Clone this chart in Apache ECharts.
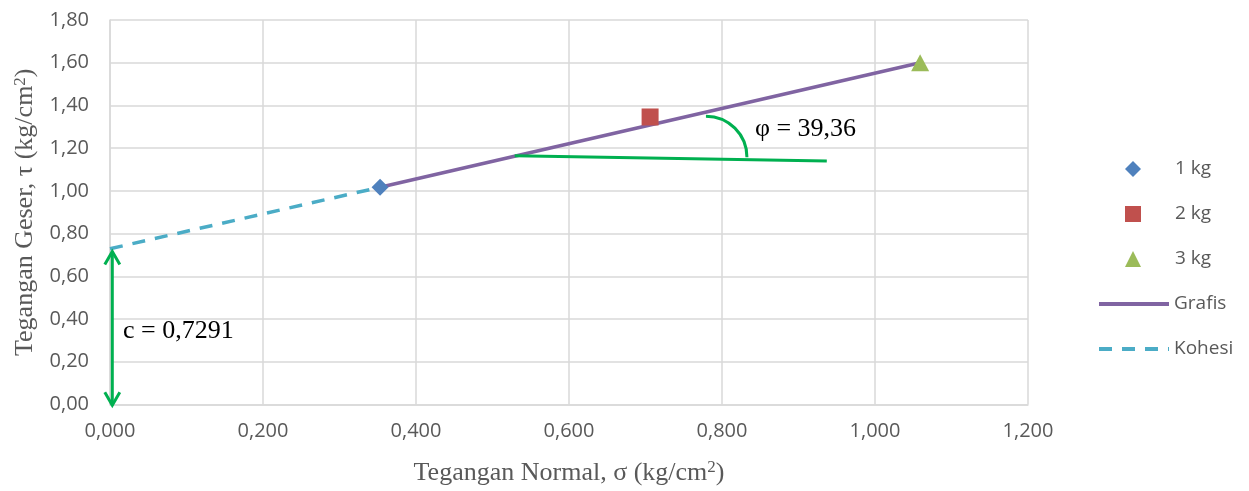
<!DOCTYPE html>
<html>
<head>
<meta charset="utf-8">
<script src="https://cdn.jsdelivr.net/npm/echarts@6/dist/echarts.min.js"></script>
<style>
html,body{margin:0;padding:0;background:#fff;}
#c{width:1249px;height:491px;}
</style>
</head>
<body>
<div id="c"></div>
<script>
// ---- data ----
const pointNames = ['1 kg', '2 kg', '3 kg'];
const sigmaPoints = [0.353, 0.706, 1.059];
const tauPoints = [1.017, 1.346, 1.600];
const grafisX = [0.353, 1.059];
const grafisY = [1.017, 1.600];
const kohesiX = [0.000, 0.353];
const kohesiY = [0.7291, 1.017];
// annotations (data coordinates)
const phiLineX = [0.529, 0.937];
const phiLineY = [1.164, 1.140];
const phiArcCenter = [0.779, 1.158];
const phiText = 'φ = 39,36';
const phiTextPos = [0.843, 1.290];
const cArrowX = 0.003;
const cArrowY = [0.716, -0.004];
const cText = 'c = 0,7291';
const cTextPos = [0.017, 0.342];

const GREEN = '#00b050';
const GRID = '#d9d9d9';
const LABEL = '#595959';

const chart = echarts.init(document.getElementById('c'), null, {renderer: 'canvas'});

const symbols = ['diamond', 'rect', 'triangle'];
const symSizes = [[17, 17], [17, 17], [18, 17]];
const colors = ['#4f81bd', '#c0504d', '#9bbb59'];

const scatterSeries = pointNames.map((n, i) => ({
  name: n,
  type: 'scatter',
  symbol: symbols[i],
  symbolSize: symSizes[i],
  symbolKeepAspect: true,
  itemStyle: {color: colors[i], opacity: 1},
  z: 5,
  data: [[sigmaPoints[i], tauPoints[i]]]
}));

const legendText = {fontFamily: 'Open Sans', fontSize: 19, color: LABEL, lineHeight: 20};

const option = {
  animation: false,
  backgroundColor: '#fff',
  grid: {left: 110, right: 221, top: 20, bottom: 84, containLabel: false},
  legend: [
    {
      orient: 'vertical',
      left: 1120,
      top: 154,
      itemWidth: 16,
      itemHeight: 16,
      itemGap: 25,
      symbolKeepAspect: true,
      textStyle: Object.assign({}, legendText, {padding: [0, 0, 0, 29]}),
      data: pointNames
    },
    {
      orient: 'vertical',
      left: 1092,
      top: 289,
      itemWidth: 70,
      itemHeight: 16,
      itemGap: 25,
      lineStyle: {width: 4},
      textStyle: legendText,
      data: [
        {name: 'Grafis', itemStyle: {opacity: 0}},
        {name: 'Kohesi', itemStyle: {opacity: 0}}
      ]
    }
  ],
  xAxis: {
    type: 'value', min: 0, max: 1.2, interval: 0.2,
    name: 'Tegangan Normal, σ (kg/cm{s|2})',
    nameLocation: 'middle', nameGap: 55,
    nameTextStyle: {fontFamily: 'Liberation Serif', fontSize: 26, color: LABEL,
      rich: {s: {fontFamily: 'Liberation Serif', fontSize: 17, color: LABEL, verticalAlign: 'top', padding: [0, 0, 10, 0]}}},
    axisLine: {show: true, lineStyle: {color: GRID, width: 1.5}},
    axisTick: {show: false},
    splitLine: {show: true, lineStyle: {color: GRID, width: 1.5}},
    axisLabel: {margin: 17, fontFamily: 'Open Sans', fontSize: 20, color: LABEL,
      formatter: v => v.toFixed(3).replace('.', ',')}
  },
  yAxis: {
    type: 'value', min: 0, max: 1.8, interval: 0.2,
    name: 'Tegangan Geser, τ (kg/cm{s|2})',
    nameLocation: 'middle', nameGap: 70, nameRotate: 90,
    nameTextStyle: {fontFamily: 'Liberation Serif', fontSize: 26, color: LABEL,
      rich: {s: {fontFamily: 'Liberation Serif', fontSize: 17, color: LABEL, verticalAlign: 'top', padding: [0, 0, 10, 0]}}},
    axisLine: {show: true, lineStyle: {color: GRID, width: 1.5}},
    axisTick: {show: false},
    splitLine: {show: true, lineStyle: {color: GRID, width: 1.5}},
    axisLabel: {margin: 21, fontFamily: 'Open Sans', fontSize: 20, color: LABEL,
      formatter: v => v.toFixed(2).replace('.', ',')}
  },
  series: scatterSeries.concat([
    {
      name: 'Grafis', type: 'line', symbol: 'none', z: 3,
      lineStyle: {color: '#8064a2', width: 3.5},
      itemStyle: {color: '#8064a2'},
      data: grafisX.map((x, i) => [x, grafisY[i]])
    },
    {
      name: 'Kohesi', type: 'line', symbol: 'none', z: 3,
      lineStyle: {color: '#4bacc6', width: 3.5, type: [13, 10]},
      itemStyle: {color: '#4bacc6'},
      data: kohesiX.map((x, i) => [x, kohesiY[i]])
    }
  ])
};
chart.setOption(option);

function px(x, y) { return chart.convertToPixel({xAxisIndex: 0, yAxisIndex: 0}, [x, y]); }

const a0 = px(phiLineX[0], phiLineY[0]);
const a1 = px(phiLineX[1], phiLineY[1]);
const ac = px(phiArcCenter[0], phiArcCenter[1]);
const pt = px(phiTextPos[0], phiTextPos[1]);
const arTop = px(cArrowX, cArrowY[0]);
const arBot = px(cArrowX, cArrowY[1]);
const ct = px(cTextPos[0], cTextPos[1]);
const aw = 7.5, ah = 13;

chart.setOption({
  graphic: [
    {type: 'line', shape: {x1: a0[0], y1: a0[1], x2: a1[0], y2: a1[1]},
     style: {stroke: GREEN, lineWidth: 3}, z: 10},
    {type: 'arc', shape: {cx: ac[0], cy: ac[1], r: 41, startAngle: -Math.PI / 2, endAngle: 0, clockwise: true},
     style: {stroke: GREEN, lineWidth: 3, fill: null}, z: 10},
    {type: 'text', x: pt[0], y: pt[1],
     style: {text: phiText, fontFamily: 'Liberation Serif', fontSize: 26, fill: '#000', verticalAlign: 'middle', align: 'left'}, z: 10},
    {type: 'line', shape: {x1: arTop[0], y1: arTop[1], x2: arBot[0], y2: arBot[1]},
     style: {stroke: GREEN, lineWidth: 3}, z: 10},
    {type: 'polyline', shape: {points: [[arTop[0] - aw, arTop[1] + ah], [arTop[0], arTop[1]], [arTop[0] + aw, arTop[1] + ah]]},
     style: {stroke: GREEN, lineWidth: 3, fill: null}, z: 10},
    {type: 'polyline', shape: {points: [[arBot[0] - aw, arBot[1] - ah], [arBot[0], arBot[1]], [arBot[0] + aw, arBot[1] - ah]]},
     style: {stroke: GREEN, lineWidth: 3, fill: null}, z: 10},
    {type: 'text', x: ct[0], y: ct[1],
     style: {text: cText, fontFamily: 'Liberation Serif', fontSize: 26, fill: '#000', verticalAlign: 'middle', align: 'left'}, z: 10}
  ]
});
</script>
</body>
</html>
